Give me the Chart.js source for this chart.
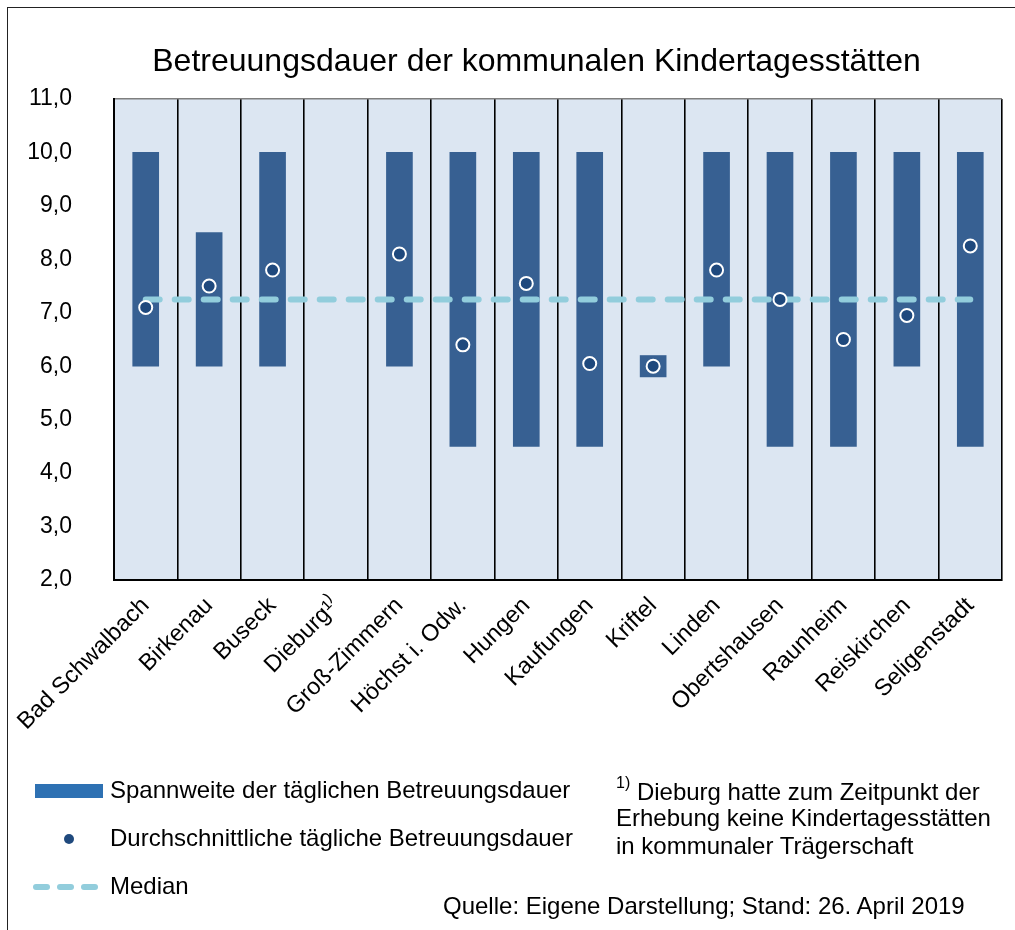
<!DOCTYPE html>
<html lang="de">
<head>
<meta charset="utf-8">
<script src="https://cdn.jsdelivr.net/npm/chart.js@4.4.1/dist/chart.umd.min.js"></script>
<style>
  html, body { margin: 0; padding: 0; background: #fff; }
  body { width: 1015px; height: 930px; position: relative; overflow: hidden;
         font-family: "Liberation Sans", Arial, Helvetica, sans-serif; color: #000; }
  #frame { position: absolute; left: 7px; top: 7px; width: 1100px; height: 1000px;
           border-left: 1.5px solid #222; border-top: 1.5px solid #222; }
  canvas { position: absolute; left: 0; top: 0; }
  .t { position: absolute; white-space: nowrap; line-height: 1; }
  #title { left: 0; width: 1073px; text-align: center; top: 44px; font-size: 32px; }
  .leg { font-size: 24px; }
  .swatch { position: absolute; }
</style>
</head>
<body>
<div id="frame"></div>
<canvas id="c" width="1015" height="930"></canvas>
<div class="t" id="title">Betreuungsdauer der kommunalen Kindertagesstätten</div>

<div class="swatch" style="left:35px;top:784px;width:68px;height:14px;background:#2E71B3;"></div>
<div class="t leg" style="left:110px;top:778px;">Spannweite der täglichen Betreuungsdauer</div>
<div class="swatch" style="left:64px;top:834px;width:10px;height:10px;border-radius:50%;background:#1F497D;"></div>
<div class="t leg" style="left:110px;top:826px;">Durchschnittliche tägliche Betreuungsdauer</div>
<div class="swatch" style="left:33px;top:884px;width:17px;height:6px;border-radius:3px;background:#92CDDC;"></div>
<div class="swatch" style="left:57px;top:884px;width:17px;height:6px;border-radius:3px;background:#92CDDC;"></div>
<div class="swatch" style="left:81px;top:884px;width:17px;height:6px;border-radius:3px;background:#92CDDC;"></div>
<div class="t leg" style="left:110px;top:874px;">Median</div>

<div class="t leg" style="left:616px;top:778px;"><sup style="font-size:16px;position:relative;top:-3px;">1)</sup> Dieburg hatte zum Zeitpunkt der</div>
<div class="t leg" style="left:616px;top:806px;">Erhebung keine Kindertagesstätten</div>
<div class="t leg" style="left:616px;top:834px;">in kommunaler Trägerschaft</div>
<div class="t leg" style="left:443px;top:894px;">Quelle: Eigene Darstellung; Stand: 26. April 2019</div>

<script>
const categories = ["Bad Schwalbach", "Birkenau", "Buseck", "Dieburg\u00B9\u207E", "Groß-Zimmern",
  "Höchst i. Odw.", "Hungen", "Kaufungen", "Kriftel", "Linden", "Obertshausen",
  "Raunheim", "Reiskirchen", "Seligenstadt"];
const rangeMin = [6.0, 6.0, 6.0, null, 6.0, 4.5, 4.5, 4.5, 5.8, 6.0, 4.5, 4.5, 6.0, 4.5];
const rangeMax = [10.0, 8.5, 10.0, null, 10.0, 10.0, 10.0, 10.0, 6.2, 10.0, 10.0, 10.0, 10.0, 10.0];
const meanValues = [7.1, 7.5, 7.8, null, 8.1, 6.4, 7.55, 6.05, 6.0, 7.8, 7.25, 6.5, 6.95, 8.25];
const medianValues = [7.25, 7.25, 7.25, 7.25, 7.25, 7.25, 7.25, 7.25, 7.25, 7.25, 7.25, 7.25, 7.25, 7.25];
const yTicks = [2, 3, 4, 5, 6, 7, 8, 9, 10, 11];

const rangeData = rangeMin.map((v, i) => (v === null ? null : [v, rangeMax[i]]));

const bgPlugin = {
  id: 'plotBg',
  beforeDraw(chart) {
    const { ctx, chartArea: a } = chart;
    ctx.save();
    ctx.fillStyle = '#DCE6F2';
    ctx.fillRect(a.left, a.top, a.right - a.left, a.bottom - a.top);
    ctx.restore();
  }
};

new Chart(document.getElementById('c'), {
  type: 'bar',
  data: {
    labels: categories,
    datasets: [
      {
        type: 'line',
        label: 'Durchschnittliche tägliche Betreuungsdauer',
        data: meanValues,
        showLine: false,
        pointStyle: 'circle',
        pointRadius: 6.5,
        pointBackgroundColor: '#1F497D',
        pointBorderColor: '#FFFFFF',
        pointBorderWidth: 2,
        order: 0
      },
      {
        type: 'line',
        label: 'Median',
        data: medianValues,
        borderColor: '#92CDDC',
        borderWidth: 6,
        borderDash: [14, 15],
        borderCapStyle: 'round',
        pointRadius: 0,
        fill: false,
        order: 1
      },
      {
        type: 'bar',
        label: 'Spannweite der täglichen Betreuungsdauer',
        data: rangeData,
        backgroundColor: '#376092',
        borderWidth: 0,
        barThickness: 26,
        borderSkipped: false,
        order: 2
      }
    ]
  },
  options: {
    responsive: false,
    animation: false,
    events: [],
    layout: { padding: { top: 99, right: 13, left: 0, bottom: 0 } },
    plugins: { legend: { display: false }, title: { display: false }, tooltip: { enabled: false } },
    scales: {
      x: {
        offset: true,
        grid: { display: true, offset: true, color: '#000', lineWidth: 1.6, drawTicks: false },
        border: { display: true, color: '#000', width: 2 },
        ticks: {
          color: '#000', font: { family: '"Liberation Sans", Arial, sans-serif', size: 23.5 },
          minRotation: 45, maxRotation: 45, padding: 12, autoSkip: false
        },
        afterFit(scale) { scale.height = 350; }
      },
      y: {
        min: 2, max: 11,
        afterBuildTicks(scale) { scale.ticks = yTicks.map(v => ({ value: v })); },
        grid: {
          display: true, drawTicks: false,
          color: ctx => (ctx.tick && ctx.tick.value === 11 ? '#7F7F7F' : 'rgba(0,0,0,0)'),
          lineWidth: 1.5
        },
        border: { display: true, color: '#000', width: 2 },
        ticks: {
          color: '#000', font: { family: '"Liberation Sans", Arial, sans-serif', size: 23 },
          padding: 42,
          callback: v => v.toFixed(1).replace('.', ',')
        },
        afterFit(scale) { scale.width = 114; }
      }
    }
  },
  plugins: [bgPlugin]
});
</script>
</body>
</html>
